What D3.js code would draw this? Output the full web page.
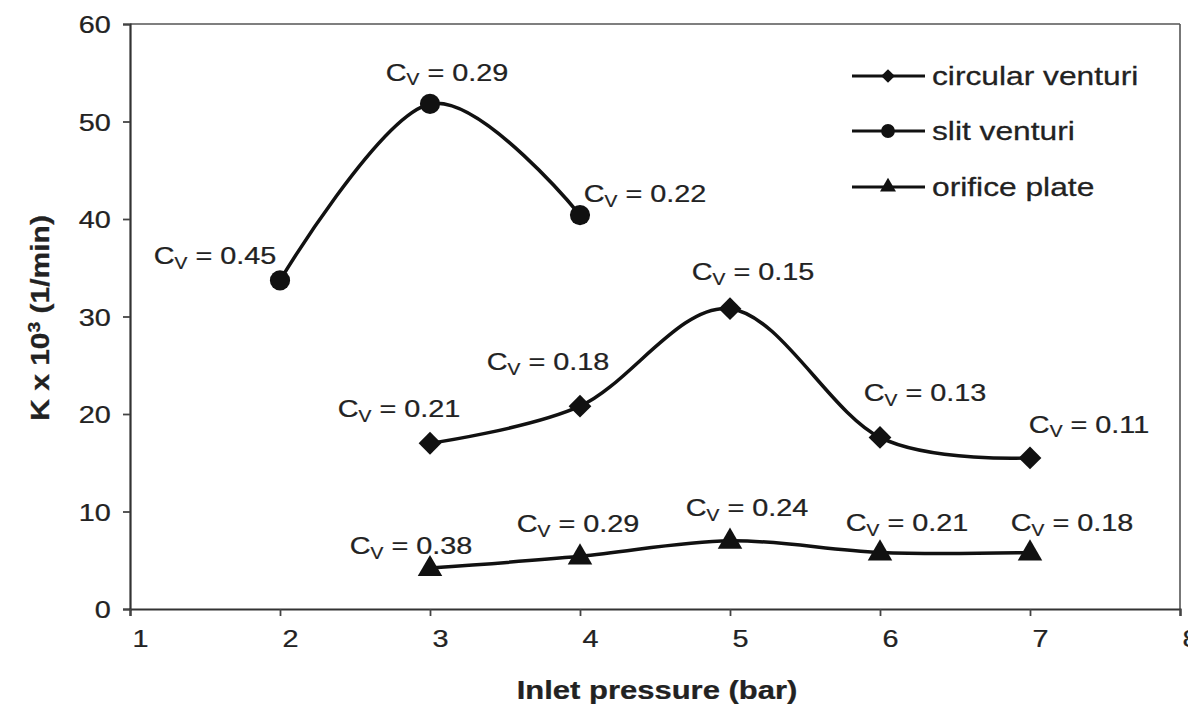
<!DOCTYPE html>
<html><head><meta charset="utf-8">
<script src="https://cdn.jsdelivr.net/npm/d3@7"></script>
<style>body{margin:0;background:#fff}svg{display:block}text{font-family:"Liberation Sans",Arial,sans-serif;fill:#222;stroke:#222;stroke-width:0.25px}</style>
</head><body><svg id="c" width="1188" height="711"></svg>
<script>
// ---- data ----
const seriesNames = ["circular venturi", "slit venturi", "orifice plate"];
const circularX = [3, 4, 5, 6, 7];
const circularY = [17.0, 20.8, 30.8, 17.6, 15.5];
const circularCv = ["0.21", "0.18", "0.15", "0.13", "0.11"];
const slitX = [2, 3, 4];
const slitY = [33.7, 51.8, 40.4];
const slitCv = ["0.45", "0.29", "0.22"];
const orificeX = [3, 4, 5, 6, 7];
const orificeY = [4.2, 5.4, 7.0, 5.8, 5.8];
const orificeCv = ["0.38", "0.29", "0.24", "0.21", "0.18"];
const xTicks = [1, 2, 3, 4, 5, 6, 7, 8];
const yTicks = [0, 10, 20, 30, 40, 50, 60];
const xTitle = "Inlet pressure (bar)";

// ---- layout (label offsets in px, separate from data) ----
const circularLab = [[-31,-35],[-32,-45],[23,-37],[45,-45],[59,-34]];
const slitLab = [[-65,-25],[17,-32],[65,-22]];
const orificeLab = [[-19,-23],[-2,-33],[17,-33],[27,-30],[42,-30]];
const SX = 1.2;

const svg = d3.select("#c");
const x = d3.scaleLinear().domain([1, 8]).range([130, 1180]);
const y = d3.scaleLinear().domain([0, 60]).range([609, 24]);

// frame top/right
svg.append("line").attr("x1", x(1)).attr("x2", x(8)).attr("y1", y(60)).attr("y2", y(60))
  .attr("stroke", "#555").attr("stroke-width", 1.6);
svg.append("line").attr("x1", x(8)).attr("x2", x(8)).attr("y1", y(60)).attr("y2", y(0))
  .attr("stroke", "#555").attr("stroke-width", 1.6);

// axes
const gy = svg.append("g").attr("transform", `translate(${x(1)},0)`)
  .call(d3.axisLeft(y).tickValues(yTicks).tickSize(7).tickPadding(9).tickFormat(d3.format("d")));
gy.selectAll("text").attr("font-size", 24).attr("transform", `scale(${SX},1)`).attr("dy", "0.36em");
const gx = svg.append("g").attr("transform", `translate(0,${y(0)})`)
  .call(d3.axisBottom(x).tickValues(xTicks).tickSize(7).tickPadding(14).tickFormat(d3.format("d")));
gx.selectAll("text").attr("font-size", 24).attr("x", 10 / SX).attr("transform", `scale(${SX},1)`);
[gx, gy].forEach(g => {
  g.selectAll("path.domain").attr("stroke", "#333").attr("stroke-width", 2.2);
  g.selectAll("line").attr("stroke", "#444").attr("stroke-width", 1.8);
  g.selectAll("text").style("fill", "#222").attr("font-family", '"Liberation Sans",Arial,sans-serif');
});

// titles
svg.append("g").attr("transform", `translate(657,690) scale(1.24,1)`)
  .append("text").attr("text-anchor", "middle").attr("dy", "0.35em")
  .attr("font-size", 25).attr("font-weight", "bold").text(xTitle);
const yt = svg.append("g").attr("transform", `translate(40,318) rotate(-90) scale(1.2,1)`)
  .append("text").attr("text-anchor", "middle").attr("dy", "0.35em")
  .attr("font-size", 25).attr("font-weight", "bold");
yt.append("tspan").text("K x 10");
yt.append("tspan").attr("font-size", 16).attr("baseline-shift", "super").text("3");
yt.append("tspan").text(" (1/min)");

// markers
const sym = {
  "circular venturi": d3.symbol().type(d3.symbolDiamond2),
  "slit venturi": d3.symbol().type(d3.symbolCircle),
  "orifice plate": d3.symbol().type(d3.symbolTriangle)
};
const mSize = { "circular venturi": 330, "slit venturi": 320, "orifice plate": 260 };
const legSize = { "circular venturi": 120, "slit venturi": 150, "orifice plate": 110 };

const line = d3.line().x(d => x(d.x)).y(d => y(d.y)).curve(d3.curveCardinal.tension(0));

const series = [
  { name: "circular venturi", xs: circularX, ys: circularY, cv: circularCv, lab: circularLab },
  { name: "slit venturi", xs: slitX, ys: slitY, cv: slitCv, lab: slitLab },
  { name: "orifice plate", xs: orificeX, ys: orificeY, cv: orificeCv, lab: orificeLab }
];

series.forEach(s => {
  const pts = s.xs.map((v, i) => ({ x: v, y: s.ys[i], cv: s.cv[i], lab: s.lab[i] }));
  svg.append("path").datum(pts).attr("d", line).attr("fill", "none")
    .attr("stroke", "#111").attr("stroke-width", 3.5);
  svg.selectAll(null).data(pts).enter().append("path")
    .attr("d", sym[s.name].size(mSize[s.name])())
    .attr("transform", d => `translate(${x(d.x)},${y(d.y) + (s.name === "orifice plate" ? 1 : 0)})`)
    .attr("fill", "#111");
  const lg = svg.selectAll(null).data(pts).enter().append("g")
    .attr("transform", d => `translate(${x(d.x) + d.lab[0]},${y(d.y) + d.lab[1]}) scale(${SX},1)`);
  const t = lg.append("text").attr("text-anchor", "middle").attr("dy", "0.36em").attr("font-size", 24);
  t.append("tspan").text("C");
  t.append("tspan").attr("font-size", 16).attr("dy", "0.3em").text("V");
  t.append("tspan").attr("dy", "-0.2em").text(d => " = " + d.cv);
});

// legend
const legY = [76, 131, 187];
seriesNames.forEach((n, i) => {
  const g = svg.append("g").attr("transform", `translate(0,${legY[i]})`);
  g.append("line").attr("x1", 852).attr("x2", 925).attr("stroke", "#111").attr("stroke-width", 3);
  g.append("path").attr("d", sym[n].size(legSize[n])()).attr("transform", "translate(888,0)").attr("fill", "#111");
  g.append("g").attr("transform", `translate(932,0) scale(1.27,1)`)
    .append("text").attr("dy", "0.36em").attr("font-size", 25).text(n);
});
</script></body></html>
